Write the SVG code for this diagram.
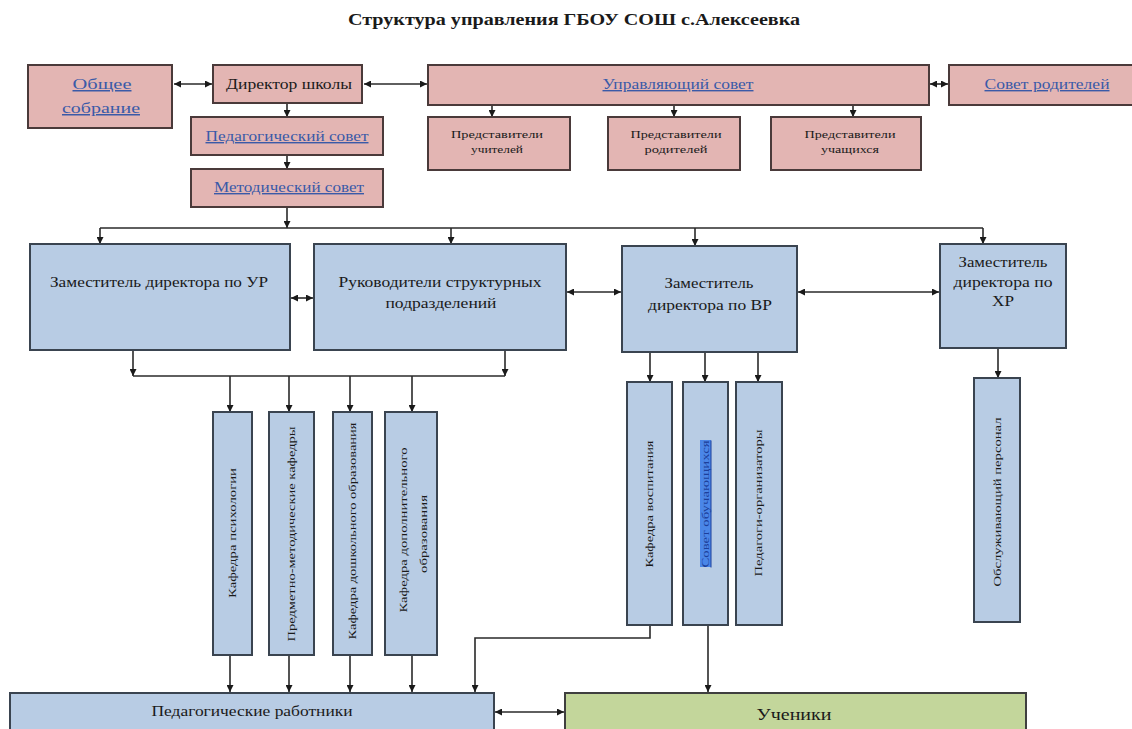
<svg xmlns="http://www.w3.org/2000/svg" width="1132" height="729" viewBox="0 0 1132 729">
<style>
text{font-family:"Liberation Serif","Times New Roman",serif;fill:#1a1a1a;}
.pink{fill:#e3b5b3;stroke:#4a3a3a;stroke-width:2;}
.blue{fill:#b8cce4;stroke:#3a4450;stroke-width:2;}
.green{fill:#c3d69b;stroke:#3f3f3f;stroke-width:2;}
.lnk{fill:#3a5aa8;text-decoration:underline;}
.t{text-anchor:middle;}
.v{text-anchor:middle;dominant-baseline:central;font-size:10px;}
.c{fill:none;stroke:#2a2a2a;stroke-width:1.6;}
</style>
<defs>
<marker id="ah" viewBox="0 0 8 8" refX="8" refY="4" markerWidth="7" markerHeight="7" markerUnits="userSpaceOnUse" orient="auto-start-reverse">
<path d="M0,0 L8,4 L0,8 z" fill="#1a1a1a"/>
</marker>
</defs>
<rect width="1132" height="729" fill="#ffffff"/>
<text class="t" x="574" y="25" font-size="16" font-weight="bold" textLength="452" lengthAdjust="spacingAndGlyphs">Структура управления ГБОУ СОШ с.Алексеевка</text>

<g id="connectors">
<line class="c" x1="174" y1="84" x2="212" y2="84" marker-start="url(#ah)" marker-end="url(#ah)"/>
<line class="c" x1="364" y1="84" x2="427" y2="84" marker-start="url(#ah)" marker-end="url(#ah)"/>
<line class="c" x1="930" y1="84" x2="948" y2="84" marker-start="url(#ah)" marker-end="url(#ah)"/>
<line class="c" x1="287" y1="103" x2="287" y2="117" marker-end="url(#ah)"/>
<line class="c" x1="287" y1="155" x2="287" y2="169" marker-end="url(#ah)"/>
<line class="c" x1="287" y1="207" x2="287" y2="228" marker-end="url(#ah)"/>
<line class="c" x1="492" y1="105" x2="492" y2="117" marker-end="url(#ah)"/>
<line class="c" x1="674" y1="105" x2="674" y2="117" marker-end="url(#ah)"/>
<line class="c" x1="853" y1="105" x2="853" y2="117" marker-end="url(#ah)"/>
<line class="c" x1="100" y1="228" x2="983" y2="228"/>
<line class="c" x1="100" y1="228" x2="100" y2="244" marker-end="url(#ah)"/>
<line class="c" x1="451" y1="228" x2="451" y2="244" marker-end="url(#ah)"/>
<line class="c" x1="695" y1="228" x2="695" y2="246" marker-end="url(#ah)"/>
<line class="c" x1="983" y1="228" x2="983" y2="244" marker-end="url(#ah)"/>
<line class="c" x1="291" y1="298" x2="313" y2="298" marker-start="url(#ah)" marker-end="url(#ah)"/>
<line class="c" x1="567" y1="292" x2="621" y2="292" marker-start="url(#ah)" marker-end="url(#ah)"/>
<line class="c" x1="798" y1="292" x2="939" y2="292" marker-start="url(#ah)" marker-end="url(#ah)"/>
<line class="c" x1="133" y1="350" x2="133" y2="376" marker-end="url(#ah)"/>
<line class="c" x1="505" y1="350" x2="505" y2="376" marker-end="url(#ah)"/>
<line class="c" x1="133" y1="376" x2="505" y2="376"/>
<line class="c" x1="230" y1="376" x2="230" y2="412" marker-end="url(#ah)"/>
<line class="c" x1="289" y1="376" x2="289" y2="412" marker-end="url(#ah)"/>
<line class="c" x1="350" y1="376" x2="350" y2="412" marker-end="url(#ah)"/>
<line class="c" x1="412" y1="376" x2="412" y2="412" marker-end="url(#ah)"/>
<line class="c" x1="230" y1="655" x2="230" y2="692" marker-end="url(#ah)"/>
<line class="c" x1="289" y1="655" x2="289" y2="692" marker-end="url(#ah)"/>
<line class="c" x1="350" y1="655" x2="350" y2="692" marker-end="url(#ah)"/>
<line class="c" x1="412" y1="655" x2="412" y2="692" marker-end="url(#ah)"/>
<line class="c" x1="650" y1="352" x2="650" y2="382" marker-end="url(#ah)"/>
<line class="c" x1="705" y1="352" x2="705" y2="382" marker-end="url(#ah)"/>
<line class="c" x1="758" y1="352" x2="758" y2="382" marker-end="url(#ah)"/>
<line class="c" x1="998" y1="348" x2="998" y2="378" marker-end="url(#ah)"/>
<path class="c" d="M650,625 V638 H475 V692" marker-end="url(#ah)"/>
<line class="c" x1="708" y1="625" x2="708" y2="692" marker-end="url(#ah)"/>
<line class="c" x1="495" y1="712" x2="564" y2="712" marker-start="url(#ah)" marker-end="url(#ah)"/>
</g>

<g id="obshee">
<rect class="pink" x="28" y="65" width="144" height="63"/>
<text class="t lnk" x="102" y="89" font-size="15" textLength="59" lengthAdjust="spacingAndGlyphs">Общее</text>
<text class="t lnk" x="101" y="113" font-size="15" textLength="78" lengthAdjust="spacingAndGlyphs">собрание</text>
</g>
<g id="direktor">
<rect class="pink" x="213" y="65" width="149" height="38"/>
<text class="t" x="289" y="89" font-size="14" textLength="126" lengthAdjust="spacingAndGlyphs">Директор школы</text>
</g>
<g id="pedsovet">
<rect class="pink" x="191" y="117" width="192" height="38"/>
<text class="t lnk" x="287" y="141" font-size="14" textLength="163" lengthAdjust="spacingAndGlyphs">Педагогический совет</text>
</g>
<g id="metodsovet">
<rect class="pink" x="191" y="169" width="192" height="38"/>
<text class="t lnk" x="289" y="192" font-size="14" textLength="150" lengthAdjust="spacingAndGlyphs">Методический совет</text>
</g>
<g id="upravsovet">
<rect class="pink" x="428" y="65" width="501" height="40"/>
<text class="t lnk" x="678" y="89" font-size="14" textLength="151" lengthAdjust="spacingAndGlyphs">Управляющий совет</text>
</g>
<g id="sovetroditeley">
<rect class="pink" x="949" y="65" width="190" height="40"/>
<text class="t lnk" x="1047" y="89" font-size="14" textLength="125" lengthAdjust="spacingAndGlyphs">Совет родителей</text>
</g>
<g id="pred-uchiteley">
<rect class="pink" x="428" y="117" width="142" height="53"/>
<text class="t" x="497" y="138" font-size="10" textLength="92" lengthAdjust="spacingAndGlyphs">Представители</text>
<text class="t" x="497" y="153" font-size="10" textLength="52" lengthAdjust="spacingAndGlyphs">учителей</text>
</g>
<g id="pred-roditeley">
<rect class="pink" x="608" y="117" width="132" height="53"/>
<text class="t" x="676" y="138" font-size="10" textLength="91" lengthAdjust="spacingAndGlyphs">Представители</text>
<text class="t" x="676" y="153" font-size="10" textLength="63" lengthAdjust="spacingAndGlyphs">родителей</text>
</g>
<g id="pred-uchashchikhsya">
<rect class="pink" x="771" y="117" width="150" height="53"/>
<text class="t" x="850" y="138" font-size="10" textLength="91" lengthAdjust="spacingAndGlyphs">Представители</text>
<text class="t" x="850" y="153" font-size="10" textLength="58" lengthAdjust="spacingAndGlyphs">учащихся</text>
</g>

<g id="zam-ur">
<rect class="blue" x="30" y="244" width="260" height="106"/>
<text class="t" x="159" y="287" font-size="14" textLength="218" lengthAdjust="spacingAndGlyphs">Заместитель директора по УР</text>
</g>
<g id="rukovoditeli">
<rect class="blue" x="314" y="244" width="252" height="106"/>
<text class="t" x="440" y="287" font-size="14" textLength="203" lengthAdjust="spacingAndGlyphs">Руководители структурных</text>
<text class="t" x="441" y="308" font-size="14" textLength="111" lengthAdjust="spacingAndGlyphs">подразделений</text>
</g>
<g id="zam-vr">
<rect class="blue" x="622" y="246" width="175" height="106"/>
<text class="t" x="709" y="288" font-size="14" textLength="89" lengthAdjust="spacingAndGlyphs">Заместитель</text>
<text class="t" x="710" y="310" font-size="14" textLength="124" lengthAdjust="spacingAndGlyphs">директора по ВР</text>
</g>
<g id="zam-hr">
<rect class="blue" x="940" y="244" width="126" height="104"/>
<text class="t" x="1003" y="267" font-size="14" textLength="89" lengthAdjust="spacingAndGlyphs">Заместитель</text>
<text class="t" x="1003" y="287" font-size="14" textLength="99" lengthAdjust="spacingAndGlyphs">директора по</text>
<text class="t" x="1003" y="306" font-size="14" textLength="22" lengthAdjust="spacingAndGlyphs">ХР</text>
</g>

<g id="kaf-psikhologii">
<rect class="blue" x="213" y="412" width="39" height="243"/>
<text class="v" transform="translate(232,533) rotate(-90)" textLength="130" lengthAdjust="spacingAndGlyphs">Кафедра психологии</text>
</g>
<g id="predmetnye-kafedry">
<rect class="blue" x="269" y="412" width="45" height="243"/>
<text class="v" transform="translate(291,534) rotate(-90)" textLength="215" lengthAdjust="spacingAndGlyphs">Предметно-методические кафедры</text>
</g>
<g id="kaf-doshkolnogo">
<rect class="blue" x="333" y="412" width="39" height="243"/>
<text class="v" transform="translate(352,531) rotate(-90)" textLength="217" lengthAdjust="spacingAndGlyphs">Кафедра дошкольного образования</text>
</g>
<g id="kaf-dopolnitelnogo">
<rect class="blue" x="385" y="412" width="52" height="243"/>
<text class="v" transform="translate(403,530) rotate(-90)" textLength="165" lengthAdjust="spacingAndGlyphs">Кафедра дополнительного</text>
<text class="v" transform="translate(423,534) rotate(-90)" font-size="7" textLength="78" lengthAdjust="spacingAndGlyphs">образования</text>
</g>
<g id="kaf-vospitaniya">
<rect class="blue" x="627" y="382" width="45" height="243"/>
<text class="v" transform="translate(649,504) rotate(-90)" textLength="127" lengthAdjust="spacingAndGlyphs">Кафедра воспитания</text>
</g>
<g id="sovet-obuchayushchikhsya">
<rect class="blue" x="683" y="382" width="45" height="243"/>
<rect x="700" y="440" width="11" height="127" fill="#4a86e8"/>
<text class="v lnk" transform="translate(705,504) rotate(-90)" textLength="127" lengthAdjust="spacingAndGlyphs" style="fill:#1d3f9a">Совет обучающихся</text>
</g>
<g id="pedagogi-organizatory">
<rect class="blue" x="736" y="382" width="46" height="243"/>
<text class="v" transform="translate(758,503) rotate(-90)" textLength="147" lengthAdjust="spacingAndGlyphs">Педагоги-организаторы</text>
</g>
<g id="obsluzhivayushchiy">
<rect class="blue" x="974" y="378" width="46" height="244"/>
<text class="v" transform="translate(997,502) rotate(-90)" textLength="169" lengthAdjust="spacingAndGlyphs">Обслуживающий персонал</text>
</g>

<g id="ped-rabotniki">
<rect class="blue" x="10" y="693" width="484" height="45"/>
<text class="t" x="252" y="716" font-size="14" textLength="201" lengthAdjust="spacingAndGlyphs">Педагогические работники</text>
</g>
<g id="ucheniki">
<rect class="green" x="565" y="693" width="461" height="45"/>
<text class="t" x="794" y="720" font-size="17" textLength="75" lengthAdjust="spacingAndGlyphs">Ученики</text>
</g>
</svg>
